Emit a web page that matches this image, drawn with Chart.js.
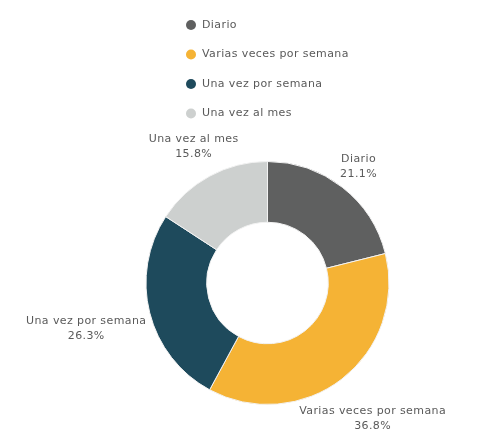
<!DOCTYPE html>
<html>
<head>
<meta charset="utf-8">
<script src="https://cdn.jsdelivr.net/npm/chart.js@4.4.0/dist/chart.umd.min.js"></script>
<style>
    html, body { margin: 0; padding: 0; background: #fff; }
</style>
</head>
<body>
<canvas id="grafico" width="480" height="435"></canvas>
<script>
const categorias = ['Diario', 'Varias veces por semana', 'Una vez por semana', 'Una vez al mes'];
const porcentajes = [21.1, 36.8, 26.3, 15.8];
const colores = ['#5f6060', '#f5b335', '#1e4a5c', '#cdd0cf'];

const fuente = '11px "DejaVu Sans", sans-serif';
const colorTexto = '#5a5a5a';

// leyenda en una columna encima del anillo
const leyenda = {
    id: 'leyenda',
    afterDraw(chart) {
        const ctx = chart.ctx;
        ctx.save();
        ctx.font = fuente;
        ctx.letterSpacing = '0.4px';
        ctx.textBaseline = 'middle';
        chart.data.labels.forEach((txt, i) => {
            const y = 25 + i * 29.5;
            ctx.fillStyle = chart.data.datasets[0].backgroundColor[i];
            ctx.beginPath();
            ctx.arc(191, y, 5, 0, Math.PI * 2);
            ctx.fill();
            ctx.fillStyle = colorTexto;
            ctx.fillText(txt, 202, y);
        });
        ctx.restore();
    }
};

// etiquetas fuera del anillo, centradas sobre la bisectriz de cada porción
const etiquetas = {
    id: 'etiquetas',
    afterDraw(chart) {
        const ctx = chart.ctx;
        const meta = chart.getDatasetMeta(0);
        const lh = 15;
        ctx.save();
        ctx.font = fuente;
        ctx.letterSpacing = '0.4px';
        ctx.fillStyle = colorTexto;
        ctx.textAlign = 'center';
        ctx.textBaseline = 'middle';
        meta.data.forEach((arc, i) => {
            const p = arc.getProps(['x', 'y', 'startAngle', 'endAngle', 'outerRadius']);
            const ang = (p.startAngle + p.endAngle) / 2;
            const dx = Math.cos(ang), dy = Math.sin(ang);
            const linea1 = chart.data.labels[i];
            const linea2 = porcentajes[i].toFixed(1) + '%';
            const w = Math.max(ctx.measureText(linea1).width, ctx.measureText(linea2).width);
            const h = lh * 2;
            const limite = p.outerRadius + 3;
            let t = p.outerRadius;
            // alejar la caja hasta que no toque el círculo
            while (t < 400) {
                const cx = p.x + dx * t, cy = p.y + dy * t;
                const nx = Math.min(Math.max(p.x, cx - w / 2), cx + w / 2);
                const ny = Math.min(Math.max(p.y, cy - h / 2), cy + h / 2);
                if (Math.hypot(nx - p.x, ny - p.y) >= limite) break;
                t += 0.5;
            }
            const cx = p.x + dx * t, cy = p.y + dy * t;
            ctx.fillText(linea1, cx, cy - lh / 2);
            ctx.fillText(linea2, cx, cy + lh / 2);
        });
        ctx.restore();
    }
};

new Chart(document.getElementById('grafico').getContext('2d'), {
    type: 'doughnut',
    data: {
        labels: categorias,
        datasets: [{
            data: porcentajes,
            backgroundColor: colores,
            borderColor: '#f2f2f2',
            borderWidth: 1
        }]
    },
    options: {
        responsive: false,
        animation: false,
        cutout: '50%',
        layout: { padding: { top: 161, bottom: 30, left: 55, right: 0 } },
        plugins: {
            legend: { display: false },
            tooltip: { enabled: false }
        }
    },
    plugins: [leyenda, etiquetas]
});
</script>
</body>
</html>
